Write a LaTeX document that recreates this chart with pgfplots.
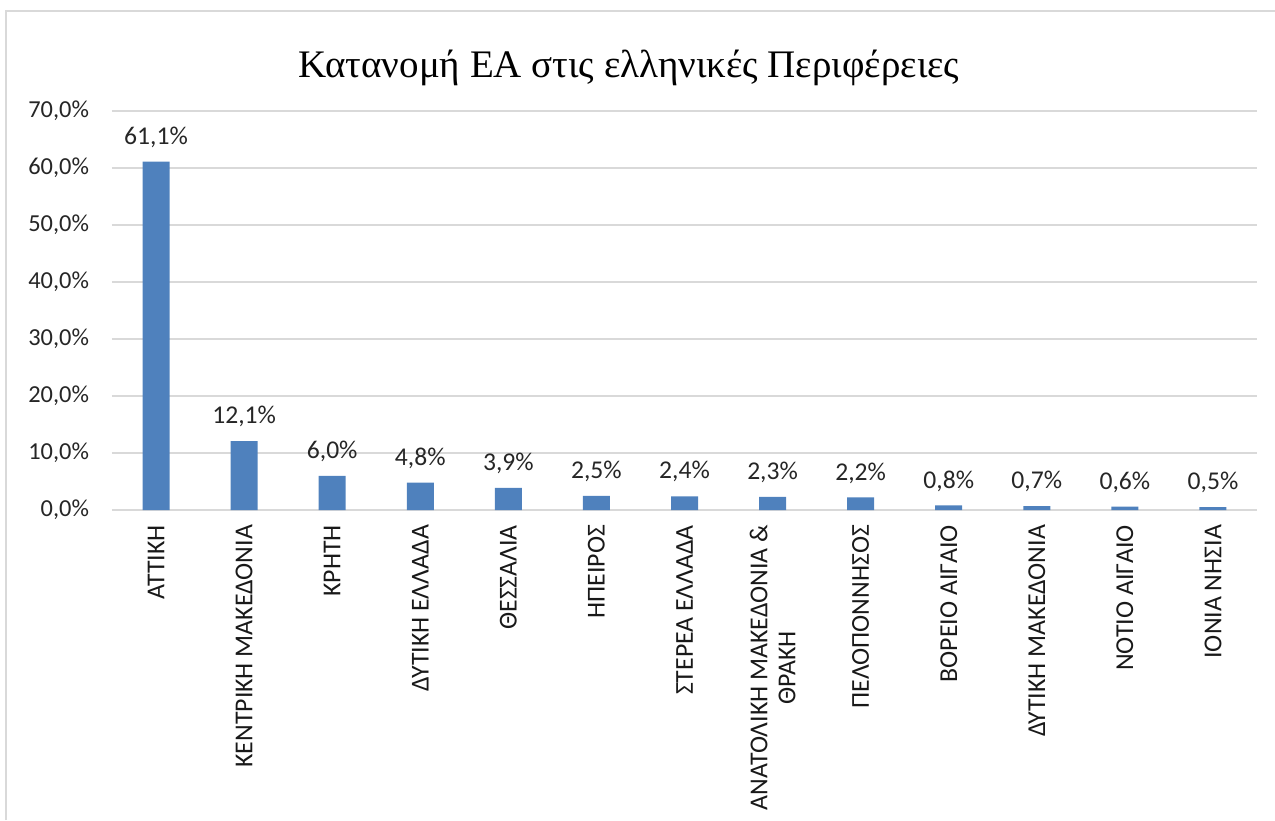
\documentclass[border=0pt]{standalone}
\usepackage{fontspec}
\setmainfont{Carlito}
\newfontfamily\titlefont{Liberation Serif}
\usepackage{pgfplots}
\pgfplotsset{compat=1.18}
\definecolor{barblue}{HTML}{4F81BD}
\definecolor{gridgray}{HTML}{D9D9D9}
\begin{document}
\begin{tikzpicture}
\useasboundingbox (0,0) rectangle (637.5pt,410pt);
\draw[gridgray, line width=1pt] (3pt,0pt) -- (3pt,404.5pt) -- (637.5pt,404.5pt);
\node[anchor=base, font=\titlefont\fontsize{19.5}{23}\selectfont] at (314.5pt,371pt) {Κατανομή ΕΑ στις ελληνικές Περιφέρειες};
\begin{axis}[
  at={(56pt,155pt)}, anchor=south west,
  scale only axis,
  width=572.5pt, height=199.5pt,
  ymin=0, ymax=70, ytick={0,10,...,70},
  xmin=-0.5, xmax=12.5,
  xtick={0,...,12},
  xticklabels={ΑΤΤΙΚΗ, ΚΕΝΤΡΙΚΗ ΜΑΚΕΔΟΝΙΑ, ΚΡΗΤΗ, ΔΥΤΙΚΗ ΕΛΛΑΔΑ, ΘΕΣΣΑΛΙΑ, ΗΠΕΙΡΟΣ, ΣΤΕΡΕΑ ΕΛΛΑΔΑ, {ΑΝΑΤΟΛΙΚΗ ΜΑΚΕΔΟΝΙΑ \&\\ΘΡΑΚΗ}, ΠΕΛΟΠΟΝΝΗΣΟΣ, ΒΟΡΕΙΟ ΑΙΓΑΙΟ, ΔΥΤΙΚΗ ΜΑΚΕΔΟΝΙΑ, ΝΟΤΙΟ ΑΙΓΑΙΟ, ΙΟΝΙΑ ΝΗΣΙΑ},
  xticklabel style={rotate=90, anchor=east, align=center, font=\fontsize{12.9}{14}\selectfont, color=black!90},
  xticklabel shift=4pt,
  every y tick label/.append style={font=\fontsize{12.2}{14}\selectfont, color=black!85, anchor=east, xshift=-8pt},
  yticklabel={\pgfmathprintnumber[fixed,fixed zerofill,precision=1,use comma]{\tick}\%},
  /pgf/number format/assume math mode=true,
  axis line style={draw=none},
  major tick length=0pt,
  ymajorgrids, grid style={gridgray, line width=1pt},
  extra y ticks={0}, extra y tick labels={}, extra y tick style={grid style={gridgray, line width=1.3pt}},
  ybar, bar width=13.5pt,
  nodes near coords={\pgfmathprintnumber[fixed,fixed zerofill,precision=1,use comma]{\pgfplotspointmeta}\%},
  nodes near coords style={font=\fontsize{12.8}{14}\selectfont, color=black!85, anchor=south, yshift=3.5pt},
  point meta=y,
  clip=false,
]
\addplot[fill=barblue, draw=none] coordinates {
(0,61.1) (1,12.1) (2,6.0) (3,4.8) (4,3.9) (5,2.5) (6,2.4) (7,2.3) (8,2.2) (9,0.8) (10,0.7) (11,0.6) (12,0.5)
};
\end{axis}
\end{tikzpicture}
\end{document}
